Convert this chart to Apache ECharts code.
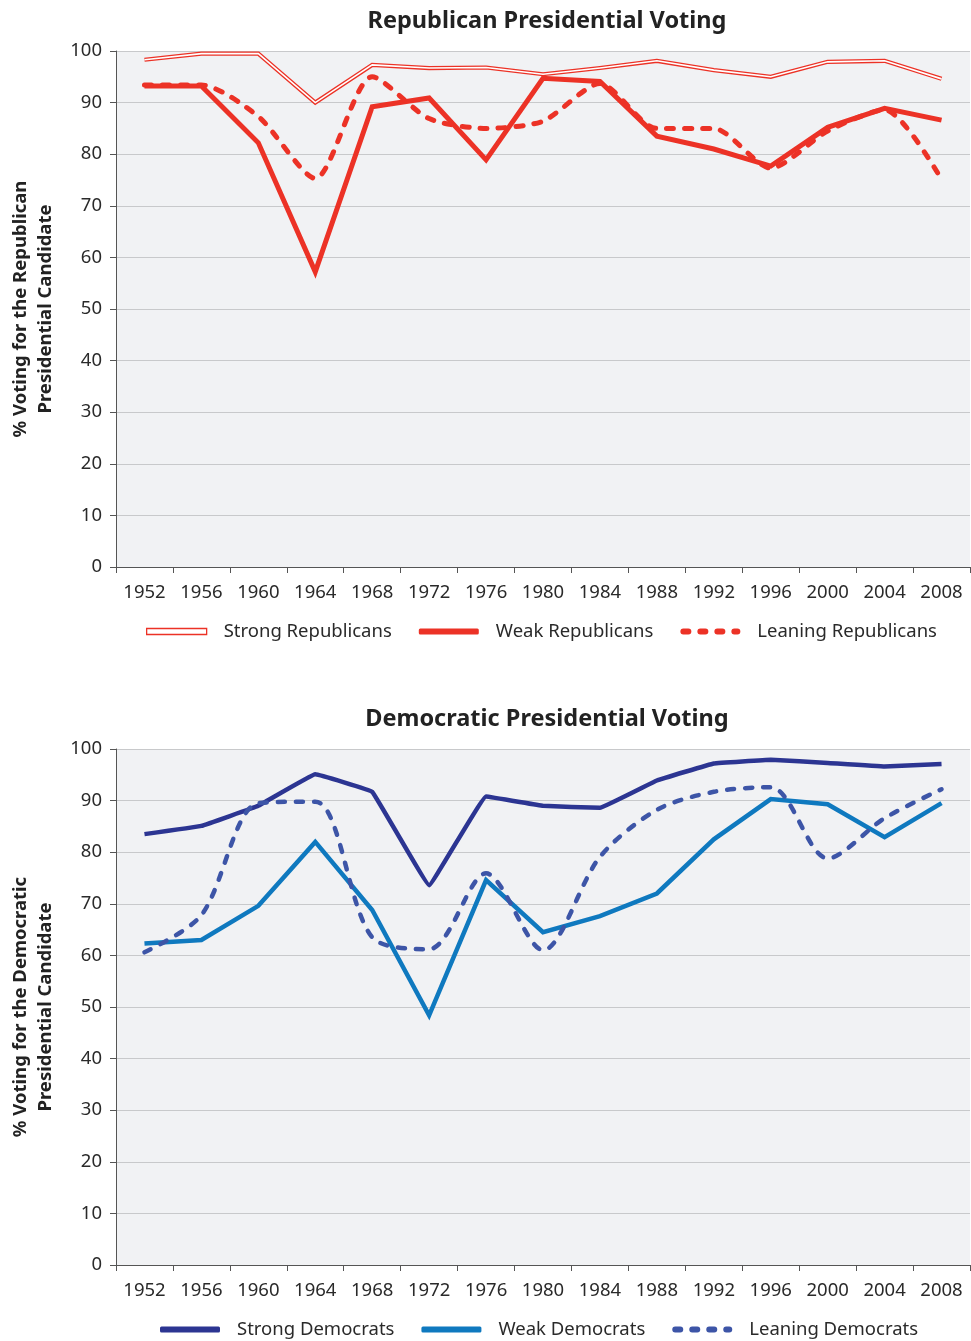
<!DOCTYPE html>
<html>
<head>
<meta charset="utf-8">
<script src="https://cdn.jsdelivr.net/npm/echarts@6/dist/echarts.min.js"></script>
<style>
html, body { margin: 0; padding: 0; background: #fff; }
#chart { width: 971px; height: 1341px; }
</style>
</head>
<body>
<div id="chart"></div>
<script>
var years = ['1952', '1956', '1960', '1964', '1968', '1972', '1976', '1980', '1984', '1988', '1992', '1996', '2000', '2004', '2008'];

// republican panel
var strongRep = [98.3, 99.5, 99.5, 90.0, 97.3, 96.7, 96.8, 95.5, 96.7, 98.1, 96.3, 95.0, 97.9, 98.1, 94.6];
var weakRep = [93.2, 93.2, 82.2, 57.2, 89.2, 90.9, 78.9, 94.7, 94.1, 83.5, 81.0, 77.7, 85.2, 88.9, 86.6];
var leanRep = [93.4, 93.4, 87.3, 75.3, 95.0, 86.9, 85.0, 86.4, 93.7, 85.0, 85.0, 77.3, 84.5, 88.6, 75.1];

// democratic panel
var strongDem = [83.5, 85.1, 89.0, 95.1, 91.7, 73.6, 90.8, 89.0, 88.6, 93.9, 97.2, 97.9, 97.3, 96.6, 97.1];
var weakDem = [62.3, 63.0, 69.6, 82.0, 68.8, 48.4, 74.6, 64.5, 67.6, 72.0, 82.5, 90.3, 89.3, 82.9, 89.5];
var leanDem = [60.6, 67.8, 89.5, 89.8, 63.5, 61.2, 75.9, 61.0, 79.1, 88.2, 91.7, 92.6, 78.8, 86.6, 92.2];

var RED = '#ec3226';
var NAVY = '#2c3592';
var BLUE = '#0f79bf';
var DASHBLUE = '#3d55a7';
var FONT = 'Noto Sans';

// legend icons: solid bar and a row of short rounded dashes
var SOLID_ICON = 'roundRect';
var DASH_ICON = 'path://M3,0h5a3,3 0 0 1 0,6h-5a3,3 0 0 1 0,-6z M20,0h5a3,3 0 0 1 0,6h-5a3,3 0 0 1 0,-6z M37,0h5a3,3 0 0 1 0,6h-5a3,3 0 0 1 0,-6z M54,0h3a3,3 0 0 1 0,6h-3a3,3 0 0 1 0,-6z';

var _xAxis = function (idx) {
    return {
        type: 'category',
        gridIndex: idx,
        data: years,
        boundaryGap: true,
        axisLine: { lineStyle: { color: '#555', width: 1 } },
        axisTick: { show: true, length: 6, lineStyle: { color: '#555' } },
        axisLabel: { color: '#2a2a2a', fontSize: 18.5, fontFamily: FONT, margin: 16, interval: 0 }
    };
};

var _yAxis = function (idx, name) {
    return {
        type: 'value',
        gridIndex: idx,
        min: 0,
        max: 100,
        interval: 10,
        name: name,
        nameLocation: 'middle',
        nameRotate: 90,
        nameGap: 58,
        nameTextStyle: { fontSize: 18.5, fontWeight: 'bold', fontFamily: FONT, color: '#222', lineHeight: 25 },
        axisLine: { show: true, lineStyle: { color: '#555', width: 1 } },
        axisTick: { show: true, length: 6, lineStyle: { color: '#555' } },
        axisLabel: { color: '#2a2a2a', fontSize: 18.5, fontFamily: FONT, margin: 14 },
        splitLine: { show: true, lineStyle: { color: '#c8c9cb', width: 1 } }
    };
};

var _line = function (name, data, idx, color, width, dash, smooth) {
    return {
        name: name,
        type: 'line',
        xAxisIndex: idx,
        yAxisIndex: idx,
        data: data,
        symbol: 'none',
        smooth: smooth || false,
        color: color,
        lineStyle: { color: color, width: width, type: dash ? [7, 11] : 'solid', cap: dash ? 'round' : 'butt', join: 'miter' },
        emphasis: { disabled: true }
    };
};

var _legend = function (left, top, items) {
    return {
        left: left, top: top,
        itemWidth: 60, itemHeight: 6, itemGap: 27,
        symbolKeepAspect: false,
        textStyle: { fontSize: 18.5, color: '#2a2a2a', fontFamily: FONT, padding: [0, 0, 0, 12] },
        data: items
    };
};

var myChart = echarts.init(document.getElementById('chart'));

var option = {
    animation: false,
    backgroundColor: '#fff',
    textStyle: { fontFamily: FONT },
    title: [{
        text: 'Republican Presidential Voting',
        left: 542, top: 4, textAlign: 'center',
        textStyle: { fontSize: 23.5, fontWeight: 'bold', color: '#222', fontFamily: FONT }
    }, {
        text: 'Democratic Presidential Voting',
        left: 542, top: 702, textAlign: 'center',
        textStyle: { fontSize: 23.5, fontWeight: 'bold', color: '#222', fontFamily: FONT }
    }],
    legend: [
        _legend(141, 617, [
            { name: 'Strong Republicans', icon: 'rect', itemStyle: { color: '#fff', borderColor: RED, borderWidth: 1.3 } },
            { name: 'Weak Republicans', icon: SOLID_ICON, itemStyle: { color: RED } },
            { name: 'Leaning Republicans', icon: DASH_ICON, itemStyle: { color: RED } }
        ]),
        _legend(155, 1315, [
            { name: 'Strong Democrats', icon: SOLID_ICON, itemStyle: { color: NAVY } },
            { name: 'Weak Democrats', icon: SOLID_ICON, itemStyle: { color: BLUE } },
            { name: 'Leaning Democrats', icon: DASH_ICON, itemStyle: { color: DASHBLUE } }
        ])
    ],
    grid: [
        { left: 114, top: 51, width: 856, height: 516, show: true, backgroundColor: '#f1f2f4', borderWidth: 0 },
        { left: 114, top: 749, width: 856, height: 516, show: true, backgroundColor: '#f1f2f4', borderWidth: 0 }
    ],
    xAxis: [_xAxis(0), _xAxis(1)],
    yAxis: [
        _yAxis(0, '% Voting for the Republican\nPresidential Candidate'),
        _yAxis(1, '% Voting for the Democratic\nPresidential Candidate')
    ],
    series: [
        _line('Strong Republicans', strongRep, 0, RED, 4.2, false),
        _line('strongRepInner', strongRep, 0, '#ffffff', 1.6, false),
        _line('Weak Republicans', weakRep, 0, RED, 5, false),
        _line('Leaning Republicans', leanRep, 0, RED, 5, true, 0.25),
        _line('Strong Democrats', strongDem, 1, NAVY, 4.5, false, 0.05),
        _line('Weak Democrats', weakDem, 1, BLUE, 4.5, false),
        _line('Leaning Democrats', leanDem, 1, DASHBLUE, 4.5, true, 0.3)
    ]
};

myChart.setOption(option);
</script>
</body>
</html>
